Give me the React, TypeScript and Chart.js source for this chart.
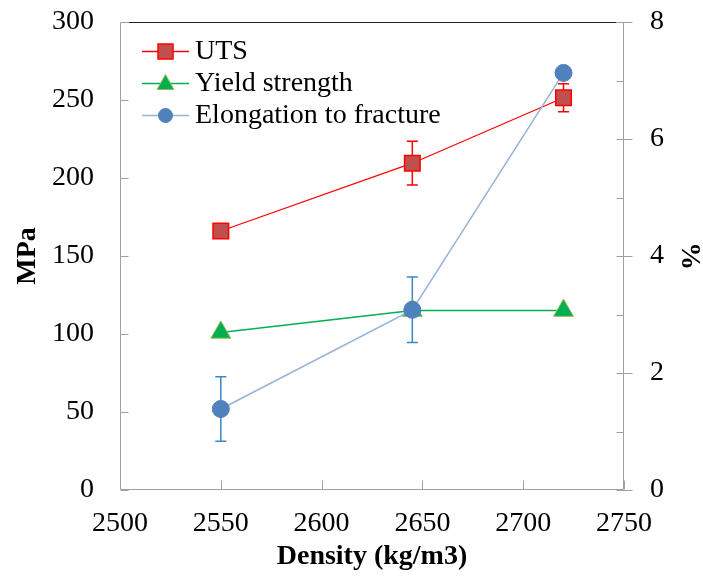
import { useEffect, useRef } from 'react';
import { Chart, registerables } from 'chart.js';

Chart.register(...registerables);

const densities = [2550, 2645, 2720];
const utsValues = [166, 209.5, 251.4];
const utsErrors = [0, 14, 9];
const yieldValues = [101, 115, 115];
const elongationValues = [1.385, 3.08, 7.13];
const elongationErrors = [0.55, 0.56, 0];
const seriesNames = ['UTS', 'Yield strength', 'Elongation to fracture'];
const rightMinorTicks = [1, 3, 5, 7];

const FONT = "'Liberation Serif', 'Times New Roman', serif";

const errorBarsPlugin = {
  id: 'errorBars',
  beforeDatasetsDraw(chart: any) {
    const { ctx, scales } = chart;
    const x = scales.x;
    const draw = (vals: number[], errs: number[], scale: any, color: string) => {
      ctx.save();
      ctx.strokeStyle = color;
      ctx.lineWidth = 1.5;
      vals.forEach((v, i) => {
        const e = errs[i];
        if (!e) return;
        const px = x.getPixelForValue(densities[i]);
        const top = scale.getPixelForValue(v + e);
        const bot = scale.getPixelForValue(v - e);
        ctx.beginPath();
        ctx.moveTo(px, top);
        ctx.lineTo(px, bot);
        ctx.moveTo(px - 5.5, top);
        ctx.lineTo(px + 5.5, top);
        ctx.moveTo(px - 5.5, bot);
        ctx.lineTo(px + 5.5, bot);
        ctx.stroke();
      });
      ctx.restore();
    };
    draw(utsValues, utsErrors, scales.y, '#FF0000');
    draw(elongationValues, elongationErrors, scales.y2, '#3A87CA');
  },
};

const axesPlugin = {
  id: 'customAxes',
  beforeDatasetsDraw(chart: any) {
    const { ctx, chartArea: a, scales } = chart;
    const L = Math.round(a.left) + 0.5;
    const R = Math.round(a.right) - 0.5;
    const T = Math.round(a.top) + 0.5;
    const B = Math.round(a.bottom) - 0.5;
    ctx.save();
    ctx.lineWidth = 1;
    ctx.strokeStyle = '#222222';
    ctx.beginPath();
    ctx.moveTo(L + 8, T);
    ctx.lineTo(R - 7, T);
    ctx.stroke();
    ctx.strokeStyle = '#A0A0A0';
    ctx.beginPath();
    ctx.moveTo(L, T);
    ctx.lineTo(L, B);
    ctx.lineTo(R, B);
    ctx.moveTo(R, T);
    ctx.lineTo(R, B);
    scales.y.ticks.forEach((t: any) => {
      const py = Math.round(scales.y.getPixelForValue(t.value)) + 0.5;
      ctx.moveTo(L, py);
      ctx.lineTo(L + 8, py);
    });
    scales.x.ticks.forEach((t: any) => {
      const px = Math.round(scales.x.getPixelForValue(t.value)) + 0.5;
      ctx.moveTo(px, B);
      ctx.lineTo(px, B - 9);
    });
    scales.y2.ticks.forEach((t: any) => {
      const py = Math.round(scales.y2.getPixelForValue(t.value)) + 0.5;
      ctx.moveTo(R - 7, py);
      ctx.lineTo(R + 9, py);
    });
    rightMinorTicks.forEach((v) => {
      const py = Math.round(scales.y2.getPixelForValue(v)) + 0.5;
      ctx.moveTo(R - 7, py);
      ctx.lineTo(R, py);
    });
    ctx.stroke();
    ctx.restore();
  },
};

const legendPlugin = {
  id: 'insideLegend',
  afterDraw(chart: any) {
    const { ctx } = chart;
    const rows = [51.5, 83.5, 115.5];
    const lineColors = ['#FF0000', '#00B050', '#95B3D7'];
    ctx.save();
    rows.forEach((y, i) => {
      ctx.strokeStyle = lineColors[i];
      ctx.lineWidth = 1.5;
      ctx.beginPath();
      ctx.moveTo(142, y);
      ctx.lineTo(189, y);
      ctx.stroke();
      const cx = 165.5;
      ctx.beginPath();
      if (i === 0) {
        ctx.fillStyle = '#C0504D';
        ctx.strokeStyle = '#FF0000';
        ctx.lineWidth = 1.5;
        ctx.rect(cx - 7.5, y - 7.5, 15, 15);
      } else if (i === 1) {
        ctx.fillStyle = '#00B050';
        ctx.strokeStyle = '#9BBB59';
        ctx.lineWidth = 1;
        ctx.moveTo(cx, y - 9);
        ctx.lineTo(cx + 8.5, y + 6);
        ctx.lineTo(cx - 8.5, y + 6);
        ctx.closePath();
      } else {
        ctx.fillStyle = '#4F81BD';
        ctx.strokeStyle = '#4F81BD';
        ctx.lineWidth = 1;
        ctx.arc(cx, y, 7, 0, Math.PI * 2);
      }
      ctx.fill();
      ctx.stroke();
      ctx.fillStyle = '#000';
      ctx.font = `28px ${FONT}`;
      ctx.textBaseline = 'middle';
      ctx.textAlign = 'left';
      ctx.fillText(seriesNames[i], 195, y);
    });
    ctx.restore();
  },
};

const fitV = (w: number) => (s: any) => {
  s.width = w;
  s.paddingTop = 0;
  s.paddingBottom = 0;
};

export default function App() {
  const ref = useRef<HTMLCanvasElement>(null);
  useEffect(() => {
    if (!ref.current) return;
    const tickFont = { size: 28, family: FONT };
    const titleFont = { size: 28, family: FONT, weight: 'bold' as const };
    const chart = new Chart(ref.current, {
      type: 'line',
      data: {
        datasets: [
          {
            label: seriesNames[0],
            data: densities.map((x, i) => ({ x, y: utsValues[i] })),
            yAxisID: 'y',
            borderColor: '#FF0000',
            borderWidth: 1.2,
            pointStyle: 'rect',
            pointRadius: 11,
            pointBackgroundColor: '#C0504D',
            pointBorderColor: '#FF0000',
            pointBorderWidth: 1.5,
            order: 1,
          },
          {
            label: seriesNames[1],
            data: densities.map((x, i) => ({ x, y: yieldValues[i] })),
            yAxisID: 'y',
            borderColor: '#00B050',
            borderWidth: 1.5,
            pointStyle: 'triangle',
            pointRadius: 11.5,
            pointBackgroundColor: '#00B050',
            pointBorderColor: '#9BBB59',
            pointBorderWidth: 1,
            order: 2,
          },
          {
            label: seriesNames[2],
            data: densities.map((x, i) => ({ x, y: elongationValues[i] })),
            yAxisID: 'y2',
            borderColor: '#95B3D7',
            borderWidth: 1.5,
            pointStyle: 'circle',
            pointRadius: 8.5,
            pointBackgroundColor: '#4F81BD',
            pointBorderColor: '#4F81BD',
            pointBorderWidth: 1,
            order: 0,
          },
        ],
      },
      options: {
        responsive: false,
        animation: false,
        devicePixelRatio: 1,
        layout: { padding: { top: 22, left: 0, right: 0, bottom: 0 } },
        plugins: { legend: { display: false }, tooltip: { enabled: false } },
        elements: { line: { tension: 0 } },
        scales: {
          x: {
            type: 'linear',
            min: 2500,
            max: 2750,
            ticks: { stepSize: 50, font: tickFont, color: '#000', padding: 17, callback: (v: any) => String(v) },
            grid: { display: false, drawTicks: false },
            border: { display: false },
            title: { display: true, text: 'Density (kg/m3)', font: titleFont, color: '#000', padding: { top: 0, bottom: 7 } },
            afterFit: (s: any) => { s.height = 91; s.paddingLeft = 0; s.paddingRight = 0; },
          },
          y: {
            type: 'linear',
            position: 'left',
            min: 0,
            max: 300,
            ticks: { stepSize: 50, font: tickFont, color: '#000', padding: 26, callback: (v: any) => String(v) },
            grid: { display: false, drawTicks: false },
            border: { display: false },
            title: { display: true, text: 'MPa', font: titleFont, color: '#000', padding: { top: 11, bottom: 0 } },
            afterFit: fitV(120),
          },
          y2: {
            type: 'linear',
            position: 'right',
            min: 0,
            max: 8,
            ticks: { stepSize: 2, font: tickFont, color: '#000', padding: 26, callback: (v: any) => String(v) },
            grid: { display: false, drawTicks: false },
            border: { display: false },
            title: { display: true, text: '%', font: titleFont, color: '#000', padding: { top: -3, bottom: 0 } },
            afterFit: fitV(79),
          },
        },
      },
      plugins: [axesPlugin, errorBarsPlugin, legendPlugin],
    });
    return () => chart.destroy();
  }, []);
  return (
    <div style={{ position: 'fixed', left: 0, top: 0, width: 703, height: 581, background: '#fff' }}>
      <canvas ref={ref} width={703} height={581} />
    </div>
  );
}
